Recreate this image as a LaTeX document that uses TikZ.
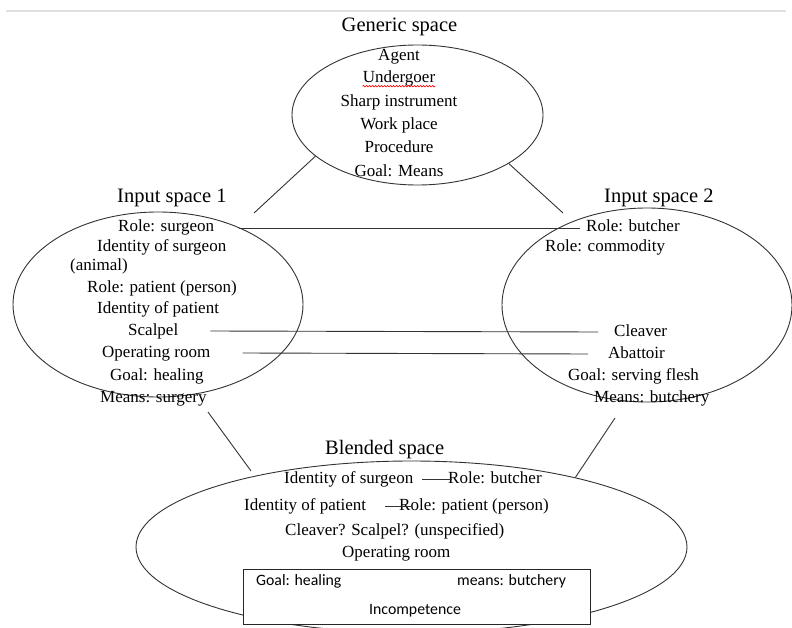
\documentclass[tikz,border=0pt]{standalone}
\usepackage{fontspec}
\setmainfont{Liberation Serif}
\newfontfamily\boxfont{Carlito}
\usetikzlibrary{shapes.geometric,decorations.pathmorphing}

\begin{document}
\begin{tikzpicture}[x=1pt,y=-1pt,
  space/.style={ellipse,draw=black!80,line width=0.9pt,inner sep=0},
  lbl/.style={font=\fontsize{17}{20}\selectfont,inner sep=0,text height=12pt,text depth=4pt,anchor=west},
  clbl/.style={lbl,anchor=center},
  ttl/.style={font=\fontsize{20.5}{24}\selectfont,inner sep=0,text height=14pt,text depth=5pt,anchor=west},
  blbl/.style={font=\boxfont\fontsize{15.8}{19}\selectfont,inner sep=0,text height=11pt,text depth=4pt,anchor=west},
  link/.style={draw=black!80,line width=0.9pt}]

\useasboundingbox (0,0) rectangle (792,628);

% thin rule along the top
\draw[black!12,line width=2pt] (6,11) -- (786,11);

% ---------------- generic space ----------------
\node[space,minimum width=251pt,minimum height=140pt] (gen) at (417.5,115) {};
\node[ttl,anchor=center] (gent) at (399.5,27) {Generic space};
\node[clbl] (g1) at (399,57) {Agent};
\node[clbl] (g2) at (399,79) {Undergoer};
\node[clbl] (g3) at (399,103) {Sharp instrument};
\node[clbl] (g4) at (399,126) {Work place};
\node[clbl] (g5) at (399,149) {Procedure};
\node[clbl] (g6) at (399,173) {Goal: Means};
\draw[red,line width=0.6pt,decorate,decoration={snake,amplitude=0.8pt,segment length=3pt}]
  ([yshift=1pt]g2.south west) -- ([yshift=1pt]g2.south east);

% ---------------- input space 1 ----------------
\node[space,minimum width=290pt,minimum height=185pt] (in1) at (158,304.5) {};
\node[ttl] (in1t) at (117,198) {Input space 1};
\node[lbl] (rs) at (118,228) {Role: surgeon};
\node[lbl] (is) at (97,248) {Identity of surgeon};
\node[lbl] (an) at (70,266) {(animal)};
\node[lbl] (rp) at (87,288) {Role: patient (person)};
\node[lbl] (ip) at (97,309) {Identity of patient};
\node[lbl] (sc) at (128,331) {Scalpel};
\node[lbl] (orm) at (102,353) {Operating room};
\node[lbl] (gh) at (110,376) {Goal: healing};
\node[lbl] (ms) at (100,398) {Means: surgery};

% ---------------- input space 2 ----------------
\node[space,minimum width=290pt,minimum height=194pt] (in2) at (647,305) {};
\node[ttl] (in2t) at (604,198) {Input space 2};
\node[lbl] (rbu) at (586,228) {Role: butcher};
\node[lbl] (rc) at (545,248) {Role: commodity};
\node[lbl] (cl) at (614,332) {Cleaver};
\node[lbl] (ab) at (608,354) {Abattoir};
\node[lbl] (gs) at (568,376) {Goal: serving flesh};
\node[lbl] (mb) at (594,398) {Means: butchery};

% ---------------- blended space ----------------
\node[space,minimum width=551pt,minimum height=172pt] (bl) at (411.5,547) {};
\node[ttl] (blt) at (325,450) {Blended space};
\node[lbl] (bis) at (284,479) {Identity of surgeon};
\node[lbl] (brb) at (448,479) {Role: butcher};
\node[lbl] (bip) at (244,506) {Identity of patient};
\node[lbl] (brp) at (399,506) {Role: patient (person)};
\node[lbl] (bcs) at (285,531) {Cleaver? Scalpel? (unspecified)};
\node[lbl] (bor) at (342,553) {Operating room};

% emergent structure box
\node[draw=black!85,line width=0.9pt,fill=white,minimum width=347pt,minimum height=55pt,inner sep=0]
  (emb) at (416.5,596.5) {};
\node[blbl] (bgh) at (256,582) {Goal: healing};
\node[blbl] (bmb) at (457,582) {means: butchery};
\node[blbl] (bin) at (369,611) {Incompetence};

% ---------------- connectors ----------------
\coordinate (c1) at (254,213);
\coordinate (c2) at (563,213);
\coordinate (c3) at (208,412);
\coordinate (c4) at (251,471);
\coordinate (c5) at (615,418);
\draw[link] (gen.202.8) -- (c1);
\draw[link] (gen.332.6) -- (c2);
\draw[link] (c3) -- (c4);
\draw[link] (c5) -- (bl.23.4);

% cross-space mappings
\draw[link] ([xshift=25pt]rs.east) -- ([xshift=-6pt]rbu.west);
\draw[link] ([xshift=32pt]sc.east) -- ([xshift=-16pt]cl.west);
\draw[link] ([xshift=32pt]orm.east) -- ([xshift=-20pt]ab.west);

% links inside the blend
\draw[link] ([xshift=9pt]bis.east) -- ([xshift=4pt]brb.west);
\draw[link] ([xshift=19pt]bip.east) -- ([xshift=12pt]brp.west);
\end{tikzpicture}
\end{document}
